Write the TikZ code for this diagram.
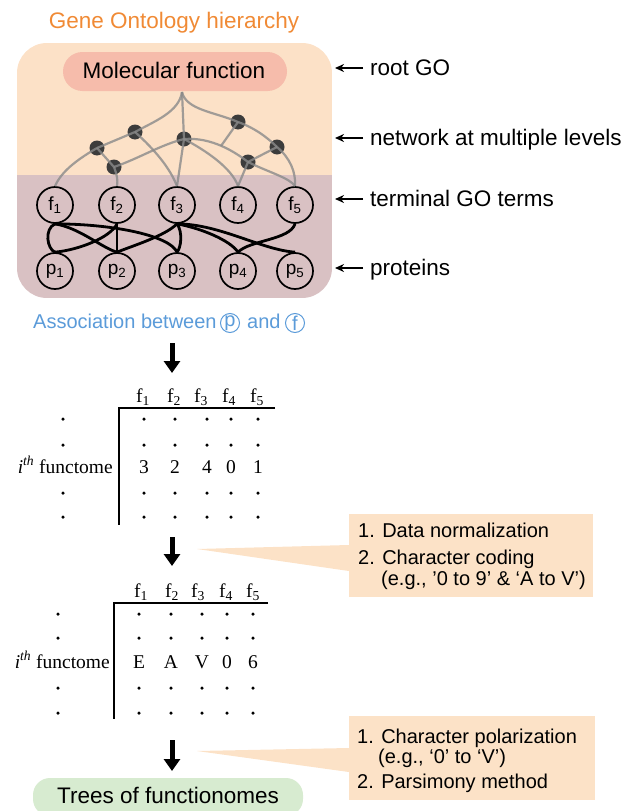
\documentclass[tikz,border=0pt]{standalone}
\usepackage{fontspec}
\setmainfont{Liberation Sans}
\newfontfamily\timesf{Liberation Serif}
\usetikzlibrary{arrows.meta}
\definecolor{goorange}{HTML}{F08A35}
\definecolor{peach}{HTML}{FCE1C7}
\definecolor{mauve}{HTML}{D9C1C3}
\definecolor{salmon}{HTML}{F6BCAB}
\definecolor{assocblue}{HTML}{5B9BD9}
\definecolor{callout}{HTML}{FCE2C7}
\definecolor{treegreen}{HTML}{D7EBD0}
\definecolor{netnode}{HTML}{3C3C3C}
\definecolor{netedge}{HTML}{8A8A8A}
\begin{document}
\begin{tikzpicture}[x=1pt,y=-1pt,
  bigtxt/.style={font=\fontsize{22.5}{26}\selectfont, inner sep=0},
  lbl/.style={bigtxt, anchor=base west},
  boxtxt/.style={font=\fontsize{20}{23}\selectfont, inner sep=0, anchor=base west},
  netdot/.style={circle, fill=netnode, minimum size=15pt, inner sep=0},
  netline/.style={draw=netedge, line width=2.2pt, opacity=0.8},
  term/.style={circle, draw=black, line width=1.7pt, minimum size=36pt, inner sep=0, font=\fontsize{19}{22}\selectfont},
  assoc/.style={draw=black, line width=2.8pt},
  ptr/.style={-{Stealth[length=9pt,width=8pt]}, line width=1.5pt},
  bigarrow/.style={-{Triangle[length=12pt,width=16pt]}, line width=5pt},
  mtext/.style={font=\timesf\fontsize{19.5}{22}\selectfont, inner sep=0},
  mdot/.style={circle, fill=black, minimum size=3.5pt, inner sep=0},
  mline/.style={draw=black, line width=2.2pt},
  callbox/.style={fill=callout, inner sep=0},
]
\useasboundingbox (0,0) rectangle (639,811);

% ---------- GO panel ----------
\node[bigtxt, text=goorange, anchor=base] (title) at (174,28) {Gene Ontology hierarchy};
\begin{scope}
  \clip[rounded corners=30pt] (17,43) rectangle (332,298);
  \fill[peach] (17,43) rectangle (332,176);
  \fill[mauve] (17,175) rectangle (332,298);
\end{scope}
\node[fill=salmon, rounded corners=19.5pt, minimum width=224pt, minimum height=39pt, inner sep=0] (mf) at (175,71.5) {};
\node[bigtxt, anchor=base] (mftext) at (174,78) {Molecular function};
\coordinate (r) at (182,92);

% network nodes
\node[netdot] (n1) at (135,132) {};
\node[netdot] (n2) at (97,148) {};
\node[netdot] (n3) at (114,167) {};
\node[netdot] (n4) at (184,139) {};
\node[netdot] (n5) at (238,122) {};
\node[netdot] (n6) at (277,147) {};
\node[netdot] (n7) at (248,162) {};

% terminal terms and proteins
\foreach \i/\x in {1/55,2/117,3/177,4/238,5/295}{
  \node[term] (f\i) at (\x,205) {f\textsubscript{\i}};
  \node[term] (p\i) at (\x,271) {p\textsubscript{\i}};
}

% network edges
\draw[netline] (r) .. controls (179,112) and (155,121) .. (n1.center);
\draw[netline] (r) -- (n4.center);
\draw[netline] (r) .. controls (186,110) and (215,112) .. (n5.center);
\draw[netline] (n1.center) -- (n2.center);
\draw[netline] (n2.center) -- (n3.center);
\draw[netline] (n2.center) .. controls (80,158) and (62,170) .. (f1.north);
\draw[netline] (n3.center) .. controls (117,175) and (118,180) .. (f2.north);
\draw[netline] (n1.center) .. controls (155,150) and (170,168) .. (f3.north);
\draw[netline] (n3.center) .. controls (140,158) and (160,145) .. (n4.center);
\draw[netline] (n4.center) -- (f3.north);
\draw[netline] (n4.center) .. controls (212,137) and (235,152) .. (n7.center);
\coordinate (j) at (221,146);
\draw[netline] (n5.center) -- (j);
\draw[netline] (n4.center) .. controls (205,150) and (232,168) .. (f4.north);
\draw[netline] (n7.center) -- (f4.north);
\draw[netline] (n7.center) .. controls (268,172) and (290,178) .. (f5.north);
\draw[netline] (n7.center) -- (n6.center);
\draw[netline] (n5.center) .. controls (255,128) and (268,138) .. (n6.center);
\draw[netline] (n6.center) .. controls (290,158) and (296,172) .. (f5.north);

% association edges
\draw[assoc] (f1.south) .. controls (44,229) and (47,249) .. (p1.north);
\draw[assoc] (f1.south) .. controls (80,228) and (102,248) .. (p2.north);
\draw[assoc] (f1.south) .. controls (115,224) and (170,236) .. (p3.north);
\draw[assoc] (f2.south) .. controls (110,238) and (78,250) .. (p1.north);
\draw[assoc] (f2.south) -- (p2.north);
\draw[assoc] (f3.south) .. controls (165,236) and (132,246) .. (p2.north);
\draw[assoc] (f3.south) .. controls (183,232) and (181,248) .. (p3.north);
\draw[assoc] (f3.south) .. controls (200,228) and (230,240) .. (p4.north);
\draw[assoc] (f3.south) .. controls (220,224) and (262,250) .. (p5.north);
\draw[assoc] (f5.south) .. controls (290,240) and (250,240) .. (p4.north);

% right-hand labels
\foreach \n/\y/\t in {root/68/root GO, net/138/network at multiple levels, term/199/terminal GO terms, prot/268/proteins}{
  \coordinate (\n s) at (363,\y);
  \coordinate (\n e) at (335,\y);
  \draw[ptr] (\n s) -- (\n e);
  \node[lbl] (\n lab) at (370,\y+7) {\t};
}

% association caption
\begin{scope}[font=\fontsize{20}{23}\selectfont, text=assocblue]
  \node[inner sep=0, anchor=base west] (as1) at (33,328) {Association between};
  \node[circle, draw=assocblue, line width=1pt, minimum size=19pt, inner sep=0] (pc) at (230,323) {p};
  \node[inner sep=0, anchor=base west] (as2) at (247,328) {and};
  \node[circle, draw=assocblue, line width=1pt, minimum size=19pt, inner sep=0] (fc) at (295,323) {f};
\end{scope}

% ---------- arrow 1 ----------
\coordinate (d1s) at (172,343);
\coordinate (d1e) at (172,373);
\draw[bigarrow] (d1s) -- (d1e);

% ---------- matrix 1 ----------
\foreach \i/\x in {1/143,2/174,3/201,4/229,5/257}
  \node[mtext, anchor=base] (ha\i) at (\x,402) {f\textsubscript{\i}};
\coordinate (acorner) at (119,408);
\coordinate (aright) at (275,408);
\coordinate (abottom) at (119,525);
\draw[mline] (aright) -- (acorner) -- (abottom);
\foreach \r/\y in {1/419,2/445,4/493,5/517}{
  \node[mdot] (al\r) at (63,\y) {};
  \foreach \c/\x in {1/144,2/175,3/207,4/231,5/258}
    \node[mdot] (a\r\c) at (\x,\y) {};
}
\foreach \c/\x/\v in {1/144/3,2/175/2,3/207/4,4/231/0,5/258/1}
  \node[mtext] (a3\c) at (\x,467) {\v};
\node[mtext, anchor=base east] (alab) at (113,473) {\textit{i}\textsuperscript{\textit{th}} functome};

% ---------- callout 1 ----------
\node[callbox, minimum width=244pt, minimum height=83pt] (cb1) at (471,555.5) {};
\coordinate (tip1) at (197,549);
\fill[callout] (tip1) -- ([yshift=10.5pt]cb1.west) -- ([yshift=-15.5pt]cb1.west) -- cycle;
\node[boxtxt] (c1a) at (358,537) {1. Data normalization};
\node[boxtxt] (c1b) at (358,564) {2. Character coding};
\node[boxtxt] (c1c) at (381,585) {(e.g., ’0 to 9’ \& ‘A to V’)};

% ---------- arrow 2 ----------
\coordinate (d2s) at (172,537);
\coordinate (d2e) at (172,566);
\draw[bigarrow] (d2s) -- (d2e);

% ---------- matrix 2 ----------
\foreach \i/\x in {1/141,2/172,3/198,4/226,5/253}
  \node[mtext, anchor=base] (hb\i) at (\x,597) {f\textsubscript{\i}};
\coordinate (bcorner) at (114,603);
\coordinate (bright) at (268,603);
\coordinate (bbottom) at (114,719);
\draw[mline] (bright) -- (bcorner) -- (bbottom);
\foreach \r/\y in {1/614,2/638,4/688,5/713}{
  \node[mdot] (bl\r) at (58,\y) {};
  \foreach \c/\x in {1/139,2/171,3/202,4/227,5/253}
    \node[mdot] (b\r\c) at (\x,\y) {};
}
\foreach \c/\x/\v in {1/139/E,2/171/A,3/202/V,4/227/0,5/253/6}
  \node[mtext] (b3\c) at (\x,662) {\v};
\node[mtext, anchor=base east] (blab) at (110,668) {\textit{i}\textsuperscript{\textit{th}} functome};

% ---------- callout 2 ----------
\node[callbox, minimum width=246pt, minimum height=84pt] (cb2) at (472,758) {};
\coordinate (tip2) at (197,751);
\fill[callout] (tip2) -- ([yshift=10pt]cb2.west) -- ([yshift=-14pt]cb2.west) -- cycle;
\node[boxtxt] (c2a) at (357,743) {1. Character polarization};
\node[boxtxt] (c2b) at (378,763) {(e.g., ‘0’ to ‘V’)};
\node[boxtxt] (c2c) at (357,788) {2. Parsimony method};

% ---------- arrow 3 ----------
\coordinate (d3s) at (172,740);
\coordinate (d3e) at (172,771);
\draw[bigarrow] (d3s) -- (d3e);

% ---------- result ----------
\node[fill=treegreen, rounded corners=17pt, minimum width=270pt, minimum height=38pt, inner sep=0] (trees) at (168,797) {};
\node[bigtxt, anchor=base] (treestxt) at (168,803) {Trees of functionomes};
\end{tikzpicture}
\end{document}
